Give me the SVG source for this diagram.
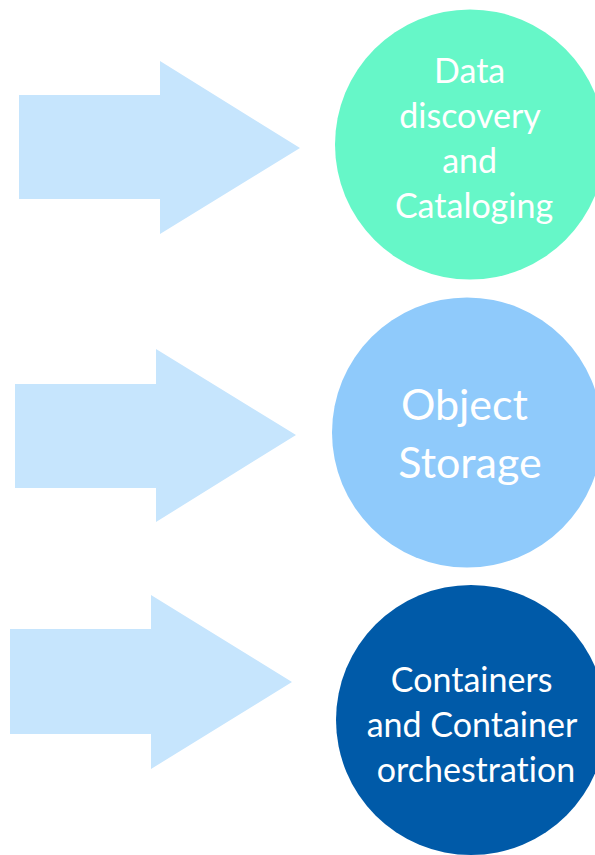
<svg xmlns="http://www.w3.org/2000/svg" width="595" height="855" viewBox="0 0 595 855">
  <style>
    .arrow { fill: #C6E5FD; }
    .label { fill: #FFFFFF; font-family: Lato, "Open Sans", "Liberation Sans", sans-serif; text-anchor: middle; font-variant-ligatures: none; }
  </style>
  <rect width="595" height="855" fill="#FFFFFF"/>

  <!-- block arrows pointing at each circle -->
  <g id="connectors">
    <polygon class="arrow" points="19,95 160,95 160,61 300,148 160,234 160,199 19,199"/>
    <polygon class="arrow" points="15,384 156,384 156,349 296,435 156,522 156,488 15,488"/>
    <polygon class="arrow" points="10,629 151,629 151,595 292,682 151,769 151,734 10,734"/>
  </g>

  <g id="data-discovery">
    <circle cx="470" cy="144.5" r="135" fill="#66F7C8"/>
    <text class="label" font-size="34">
      <tspan x="474" y="83">Data</tspan>
      <tspan x="474" y="128">discovery</tspan>
      <tspan x="474" y="173">and</tspan>
      <tspan x="474" y="218">Cataloging</tspan>
    </text>
  </g>

  <g id="object-storage">
    <circle cx="467" cy="432.5" r="135" fill="#8FCAFB"/>
    <text class="label" font-size="43">
      <tspan x="470" y="420">Object</tspan>
      <tspan x="470" y="478">Storage</tspan>
    </text>
  </g>

  <g id="containers">
    <circle cx="471" cy="720" r="135" fill="#005AA8"/>
    <text class="label" font-size="34">
      <tspan x="476" y="692">Containers</tspan>
      <tspan x="476" y="737">and Container</tspan>
      <tspan x="476" y="782">orchestration</tspan>
    </text>
  </g>
</svg>
